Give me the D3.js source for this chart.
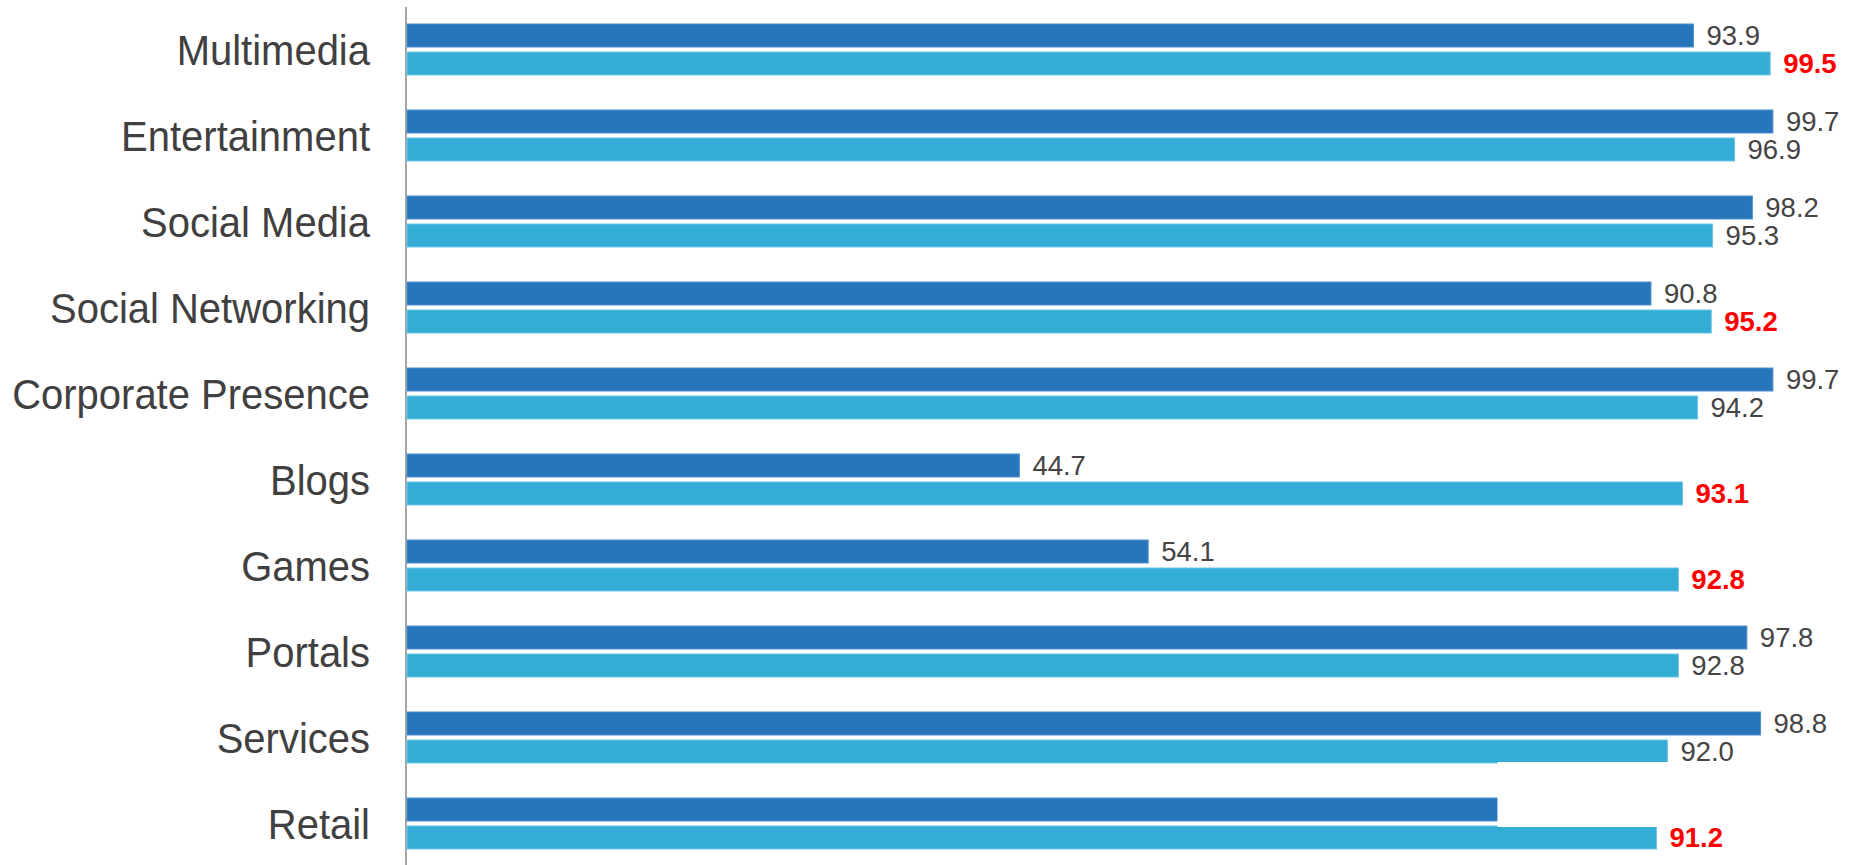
<!DOCTYPE html>
<html>
<head>
<meta charset="utf-8">
<script src="https://cdn.jsdelivr.net/npm/d3@7"></script>
<style>
html,body{margin:0;padding:0;background:#fff;}
svg{display:block;}
</style>
</head>
<body>
<svg id="chart" width="1853" height="865"></svg>
<script>
const categories = ["Multimedia","Entertainment","Social Media","Social Networking","Corporate Presence","Blogs","Games","Portals","Services","Retail"];
const seriesA = [93.9, 99.7, 98.2, 90.8, 99.7, 44.7, 54.1, 97.8, 98.8, 79.6];
const seriesB = [99.5, 96.9, 95.3, 95.2, 94.2, 93.1, 92.8, 92.8, 92.0, 91.2];
const showLabelA = [true,true,true,true,true,true,true,true,true,false];
const highlightB = [true,false,false,true,false,true,true,false,false,true];

const svg = d3.select("#chart");
const x = d3.scaleLinear().domain([0,100]).range([407,1777]);
const y = d3.scaleBand().domain(categories).range([6.5,866.5]).paddingInner(35/86).paddingOuter(35/172);
const sub = d3.scaleBand().domain(["A","B"]).range([0,y.bandwidth()]).paddingInner(0.179);

const rows = categories.map((c,i)=>({c, a:seriesA[i], b:seriesB[i], la:showLabelA[i], hb:highlightB[i]}));

// axis line
svg.append("line").attr("x1",406).attr("x2",406).attr("y1",7).attr("y2",865)
  .attr("stroke","#a6a6a6").attr("stroke-width",2);

const g = svg.selectAll("g.row").data(rows).enter().append("g").attr("class","row")
  .attr("transform",d=>`translate(0,${y(d.c)})`);

g.append("rect").attr("x",x(0)).attr("y",sub("A")).attr("width",d=>x(d.a)-x(0)).attr("height",sub.bandwidth())
  .attr("fill","#2775ba").attr("stroke","#4f8fca").attr("stroke-width",1);
g.append("rect").attr("x",x(0)).attr("y",sub("B")).attr("width",d=>x(d.b)-x(0)).attr("height",sub.bandwidth())
  .attr("fill","#33acd6").attr("stroke","#6cc4e3").attr("stroke-width",1);

g.filter(d=>d.la).append("text").attr("x",d=>x(d.a)+13).attr("y",sub("A")+sub.bandwidth()/2).attr("dy","0.36em")
  .attr("font-family","Liberation Sans, Arial, sans-serif").attr("font-size",27.5).attr("fill","#444")
  .text(d=>d.a.toFixed(1));
g.append("text").attr("x",d=>x(d.b)+13).attr("y",sub("B")+sub.bandwidth()/2).attr("dy","0.36em")
  .attr("font-family","Liberation Sans, Arial, sans-serif").attr("font-size",27.5)
  .attr("font-weight",d=>d.hb?"bold":"normal").attr("fill",d=>d.hb?"#ff0000":"#444")
  .text(d=>d.b.toFixed(1));

g.append("text").attr("transform",`translate(370,${y.bandwidth()/2+15.5}) scale(0.93,1)`)
  .attr("text-anchor","end").attr("font-family","Liberation Sans, Arial, sans-serif").attr("font-size",43)
  .attr("fill","#404040").text(d=>d.c);

// white patch present in the original image (covers the end of the last dark bar)
const lastA = y(categories[categories.length-1]);
svg.append("rect").attr("x",x(seriesA[seriesA.length-1])).attr("y",lastA-36).attr("width",1853-x(seriesA[seriesA.length-1]))
  .attr("height",65).attr("fill","#fff");
</script>
</body>
</html>
